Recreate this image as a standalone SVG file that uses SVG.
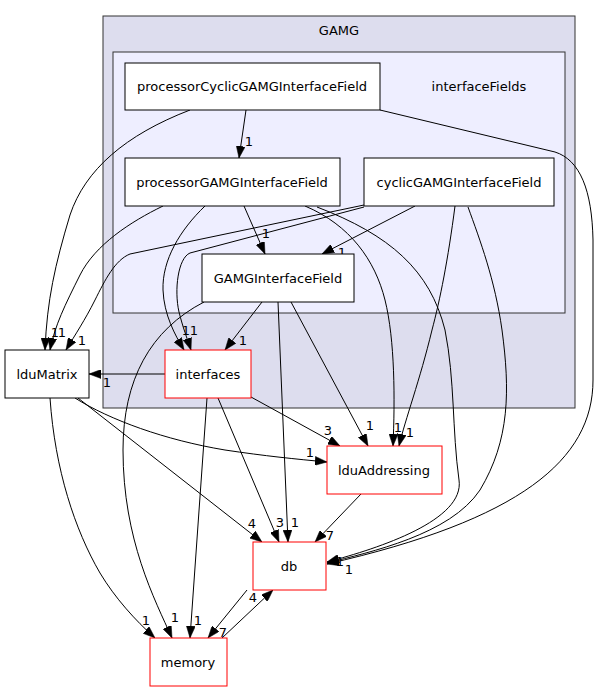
<svg xmlns="http://www.w3.org/2000/svg" width="602" height="692" viewBox="0 0 602 692">
<style>
text{font-family:"DejaVu Sans","Liberation Sans",sans-serif;font-size:13px;fill:#000}
.n text,.c text{text-anchor:middle}
.n rect{fill:#fff;stroke:#000;stroke-width:1}
.n.r rect{stroke:#ff0000}
.e path{fill:none;stroke:#000;stroke-width:1;marker-end:url(#a)}
.l text{text-anchor:middle}
</style>
<defs>
<marker id="a" viewBox="0 0 12 9" refX="12" refY="4.5" markerWidth="12" markerHeight="9" markerUnits="userSpaceOnUse" orient="auto"><path d="M0,0L12,4.5L0,9z" fill="#000" stroke="#000" stroke-width="0.5"/></marker>
</defs>
<rect width="602" height="692" fill="#fff"/>
<g id="cluster_GAMG" class="c">
<rect x="103" y="16" width="472" height="392" fill="#ddddee" stroke="#333"/>
<text x="339" y="35">GAMG</text>
</g>
<g id="cluster_interfaceFields" class="c">
<rect x="113" y="52" width="452" height="261" fill="#eeeeff" stroke="#333"/>
<text x="479" y="91">interfaceFields</text>
</g>
<g id="edges" class="e">
<path d="M246,110 L239,158"/>
<path d="M190,110 C125,135 85,170 70,215 C55,265 47,300 45,350"/>
<path d="M163,206 C130,222 95,245 80,275 C65,305 55,325 50,350"/>
<path d="M364,205 L130,254 C115,260 105,280 95,300 C85,320 75,335 66,350"/>
<path d="M364,207 L190,253 C178,258 174,290 179,312 C183,328 187,338 191,350"/>
<path d="M205,206 C180,230 162,260 163,290 C164,315 175,335 184,350"/>
<path d="M244,206 L265,254"/>
<path d="M415,206 L322,254"/>
<path d="M305,206 C350,225 375,260 385,300 C395,340 395,400 393,446"/>
<path d="M455,206 C448,260 440,300 432,330 C420,380 405,420 399,446"/>
<path d="M317,207 C390,235 430,270 445,330 C455,380 452,430 459,480 C465,520 380,548 327,562"/>
<path d="M468,207 C480,240 495,280 502,330 C510,390 510,440 480,490 C450,535 370,552 327,563"/>
<path d="M380,110 L555,152 C580,160 592,190 593,240 L593,380 C593,460 520,520 327,564"/>
<path d="M262,302 L225,350"/>
<path d="M278,302 L288,542"/>
<path d="M291,302 L368,446"/>
<path d="M204,302 C150,330 123,380 123,450 C123,540 155,600 172,638"/>
<path d="M165,374 L89,374"/>
<path d="M251,397 L340,446"/>
<path d="M218,398 L279,542"/>
<path d="M207,398 L190,638"/>
<path d="M75,398 C110,420 165,440 225,450 C265,456 295,459 327,462"/>
<path d="M78,398 L262,542"/>
<path d="M50,398 C55,470 75,530 100,573 C115,598 135,620 155,638"/>
<path d="M361,494 L315,542"/>
<path d="M247,590 L208,638"/>
<path d="M222,638 L273,590"/>
</g>
<g id="edge_labels" class="l">
<text x="249" y="146">1</text>
<text x="55" y="337">1</text>
<text x="62" y="337">1</text>
<text x="82" y="345">1</text>
<text x="186" y="335">1</text>
<text x="194" y="335">1</text>
<text x="243" y="345">1</text>
<text x="266" y="238">1</text>
<text x="342" y="257">1</text>
<text x="107" y="387">1</text>
<text x="328" y="435">3</text>
<text x="370" y="430">1</text>
<text x="398" y="432">1</text>
<text x="410" y="437">1</text>
<text x="310" y="457">1</text>
<text x="252" y="528">4</text>
<text x="280" y="527">3</text>
<text x="295" y="527">1</text>
<text x="330" y="540">7</text>
<text x="340" y="566">1</text>
<text x="349" y="574">1</text>
<text x="146" y="625">1</text>
<text x="175" y="622">1</text>
<text x="198" y="625">1</text>
<text x="253" y="602">4</text>
<text x="223" y="637">7</text>
</g>
<g id="processorCyclicGAMGInterfaceField" class="n"><rect x="125" y="63" width="255" height="47"/><text x="252" y="91">processorCyclicGAMGInterfaceField</text></g>
<g id="processorGAMGInterfaceField" class="n"><rect x="125" y="158" width="215" height="48"/><text x="232" y="187">processorGAMGInterfaceField</text></g>
<g id="cyclicGAMGInterfaceField" class="n"><rect x="364" y="158" width="190" height="48"/><text x="459" y="187">cyclicGAMGInterfaceField</text></g>
<g id="GAMGInterfaceField" class="n"><rect x="202" y="254" width="152" height="48"/><text x="278" y="283">GAMGInterfaceField</text></g>
<g id="interfaces" class="n r"><rect x="165" y="350" width="86" height="48"/><text x="208" y="379">interfaces</text></g>
<g id="lduMatrix" class="n"><rect x="5" y="350" width="84" height="48"/><text x="47" y="379">lduMatrix</text></g>
<g id="lduAddressing" class="n r"><rect x="327" y="446" width="115" height="48"/><text x="384" y="475">lduAddressing</text></g>
<g id="db" class="n r"><rect x="253" y="542" width="73" height="48"/><text x="289" y="571">db</text></g>
<g id="memory" class="n r"><rect x="150" y="638" width="77" height="48"/><text x="188" y="667">memory</text></g>
</svg>
